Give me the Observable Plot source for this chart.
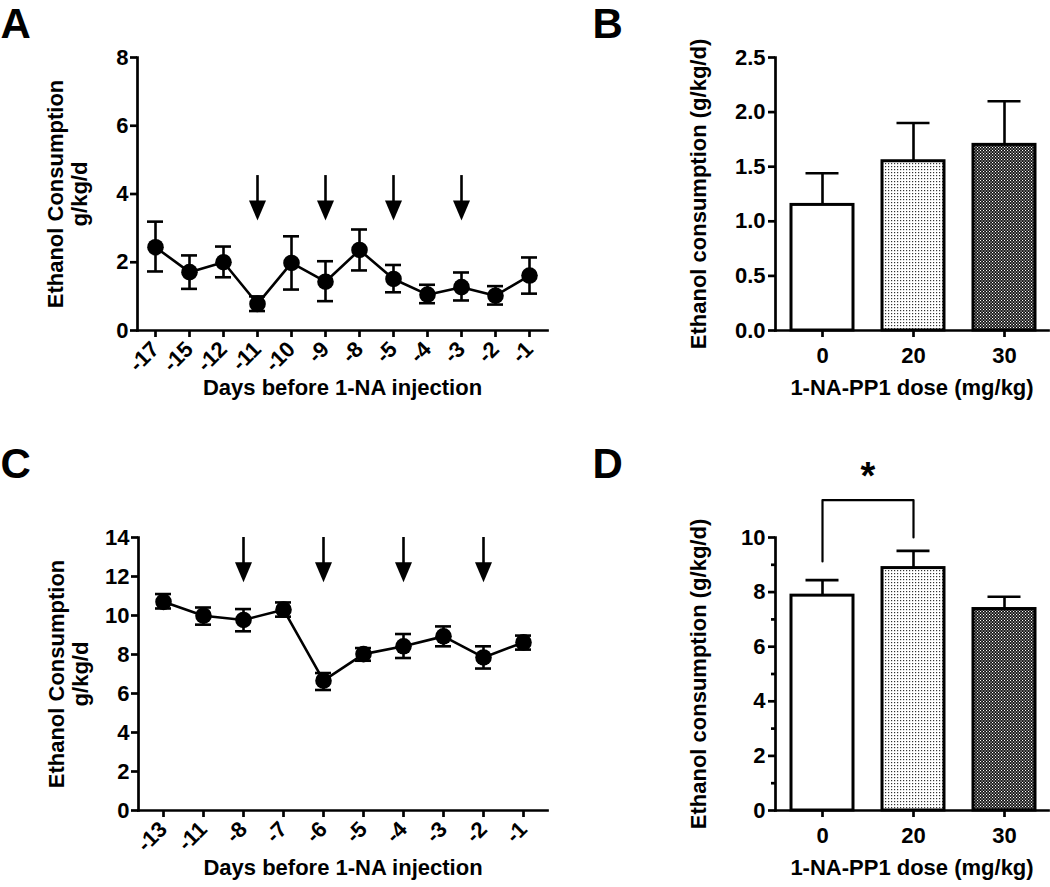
<!DOCTYPE html>
<html><head><meta charset="utf-8">
<script src="https://cdn.jsdelivr.net/npm/d3@7"></script>
<script src="https://cdn.jsdelivr.net/npm/@observablehq/plot@0.6"></script>
<style>
body{margin:0;background:#fff;}
#chart{position:relative;width:1050px;height:887px;background:#fff;overflow:hidden;}
#chart .panel{position:absolute;}
</style></head>
<body>
<svg width="0" height="0" style="position:absolute">
<defs>
<pattern id="dots" width="3" height="3" patternUnits="userSpaceOnUse"><rect width="3" height="3" fill="#fff"/><rect x="1" y="1" width="1.2" height="1.2" fill="#333"/></pattern>
<pattern id="checks" width="3" height="3" patternUnits="userSpaceOnUse"><rect width="3" height="3" fill="#111"/><rect width="1.1" height="1.1" fill="#fff"/><rect x="1.5" y="1.5" width="1.1" height="1.1" fill="#fff"/></pattern>
</defs></svg>
<div id="chart">
<div class="panel" id="pA" style="left:0;top:0"></div>
<div class="panel" id="pB" style="left:560px;top:0"></div>
<div class="panel" id="pC" style="left:0;top:440px"></div>
<div class="panel" id="pD" style="left:560px;top:440px"></div>
</div>
<script>
// ---------- Data ----------
// Panel A
const daysA = ["-17","-15","-12","-11","-10","-9","-8","-5","-4","-3","-2","-1"];
const meanA = [2.44, 1.71, 2.00, 0.78, 1.98, 1.43, 2.36, 1.51, 1.05, 1.27, 1.02, 1.61];
const upperA = [3.19, 2.20, 2.46, 1.00, 2.76, 2.03, 2.96, 1.92, 1.34, 1.70, 1.30, 2.14];
const lowerA = [1.73, 1.22, 1.56, 0.57, 1.20, 0.86, 1.76, 1.12, 0.80, 0.88, 0.76, 1.08];
const arrowDaysA = ["-11","-9","-5","-3"];
const arrowTopA = [4.54, 4.54, 4.54, 4.54];
const arrowTipA = [3.22, 3.22, 3.22, 3.22];
const yTicksA = [0, 2, 4, 6, 8];

// Panel B
const doses = ["0","20","30"];
const meanB = [1.15, 1.55, 1.70];
const upperB = [1.44, 1.90, 2.10];
const yTicksB = [0, 0.5, 1.0, 1.5, 2.0, 2.5];

// Panel C
const daysC = ["-13","-11","-8","-7","-6","-5","-4","-3","-2","-1"];
const meanC = [10.70, 9.99, 9.77, 10.30, 6.66, 8.02, 8.42, 8.93, 7.85, 8.62];
const upperC = [11.10, 10.41, 10.33, 10.67, 7.05, 8.33, 9.05, 9.44, 8.42, 8.97];
const lowerC = [10.36, 9.53, 9.19, 9.94, 6.18, 7.68, 7.82, 8.42, 7.28, 8.25];
const arrowDaysC = ["-8","-6","-4","-2"];
const arrowTopC = [14, 14, 14, 14];
const arrowTipC = [11.7, 11.7, 11.7, 11.7];
const yTicksC = [0, 2, 4, 6, 8, 10, 12, 14];

// Panel D
const meanD = [7.87, 8.88, 7.38];
const upperD = [8.44, 9.51, 7.83];
const yTicksD = [0, 2, 4, 6, 8, 10];
const yMinorTicksD = [1, 3, 5, 7, 9];
const bracketDoseD = ["0","0","20","20"];
const bracketYD = [9.12, 11.37, 11.37, 10.0];
const starDoseD = ["0"];
const starYD = [12.75];
const starText = ["*"];

// Texts
const yTitleLine = "Ethanol Consumption\ng/kg/d";
const yTitleBar = "Ethanol consumption (g/kg/d)";
const xTitleLine = "Days before 1-NA injection";
const xTitleBar = "1-NA-PP1 dose (mg/kg)";

// ---------- Styling ----------
const FONT = '"Liberation Sans", Arial, Helvetica, sans-serif';
const style = {fontFamily: FONT, fontWeight: "bold", fontSize: "22px", color: "black", background: "white", overflow: "visible"};
const AX = 2.7, LW = 2.6;
const barFills = ["white", "url(#dots)", "url(#checks)"];
const arrowHead = {draw(ctx) { ctx.moveTo(-8.5, -20); ctx.lineTo(8.5, -20); ctx.lineTo(0, 0); ctx.closePath(); }};
const LETTER_SIZE = 42, LETTER_TOP = 8;

function linePanel({days, mean, lo, hi, arrowDays, arrowTop, arrowTip, yDomain, yTicks, letter, height, marginLeft, marginTop, marginBottom}) {
  const rows = days.map((d, i) => ({day: d, mean: mean[i], lo: lo[i], hi: hi[i]}));
  const arrows = arrowDays.map((d, i) => ({day: d, top: arrowTop[i], tip: arrowTip[i]}));
  return Plot.plot({
    width: 560, height, marginLeft, marginRight: 13, marginTop, marginBottom,
    style,
    x: {type: "point", domain: days, padding: 0.5},
    y: {domain: yDomain},
    marks: [
      Plot.frame({anchor: "left", strokeWidth: AX}),
      Plot.frame({anchor: "bottom", strokeWidth: AX}),
      Plot.axisY({ticks: yTicks, tickSize: 7, tickPadding: 2, strokeWidth: AX, label: null}),
      Plot.axisX({tickRotate: -45, tickSize: 7, tickPadding: 8, strokeWidth: AX, label: null}),
      Plot.ruleX(arrows, {x: "day", y1: "top", y2: "tip", strokeWidth: LW, insetBottom: 10}),
      Plot.dot(arrows, {x: "day", y: "tip", symbol: arrowHead, fill: "black", stroke: "none"}),
      Plot.line(rows, {x: "day", y: "mean", strokeWidth: LW}),
      Plot.ruleX(rows, {x: "day", y1: "lo", y2: "hi", strokeWidth: LW}),
      Plot.ruleY(rows, {x1: "day", x2: "day", y: "hi", insetLeft: -8, insetRight: -8, strokeWidth: LW}),
      Plot.ruleY(rows, {x1: "day", x2: "day", y: "lo", insetLeft: -8, insetRight: -8, strokeWidth: LW}),
      Plot.dot(rows, {x: "day", y: "mean", r: 8.3, fill: "black", stroke: "none"}),
      Plot.text([yTitleLine], {frameAnchor: "left", textAnchor: "middle", rotate: -90, dx: -70, lineHeight: 1.08, fontSize: 22}),
      Plot.text([xTitleLine], {frameAnchor: "bottom", textAnchor: "middle", dy: 64, fontSize: 22}),
      Plot.text([letter], {frameAnchor: "top-left", textAnchor: "start", lineAnchor: "top", dx: -marginLeft, dy: -marginTop + LETTER_TOP, fontSize: LETTER_SIZE})
    ]
  });
}

function barPanel({mean, upper, yDomain, yTicks, minorTicks, letter, height, marginTop, marginBottom, extra}) {
  const rows = doses.map((d, i) => ({dose: d, mean: mean[i], hi: upper[i]}));
  const marks = [
    Plot.barY(rows, {x: "dose", y: "mean", fill: "dose", stroke: "black", strokeWidth: 3}),
    Plot.ruleX(rows, {x: "dose", y1: "mean", y2: "hi", strokeWidth: LW}),
    Plot.tickY(rows, {x: "dose", y: "hi", insetLeft: 14.5, insetRight: 14.5, strokeWidth: LW}),
    Plot.frame({anchor: "left", strokeWidth: AX}),
    Plot.frame({anchor: "bottom", strokeWidth: AX}),
    Plot.axisY({ticks: yTicks, tickSize: 7, tickPadding: 3, strokeWidth: AX, label: null, tickFormat: yTicks.some(v => v % 1) ? d3.format(".1f") : d3.format("d")}),
    Plot.axisX({tickSize: 7, tickPadding: 10, strokeWidth: AX, label: null}),
    Plot.text([yTitleBar], {frameAnchor: "left", textAnchor: "middle", rotate: -90, dx: -77, fontSize: 22}),
    Plot.text([xTitleBar], {frameAnchor: "bottom", textAnchor: "middle", dy: 64, fontSize: 22}),
    Plot.text([letter], {frameAnchor: "top-left", textAnchor: "start", lineAnchor: "top", dx: 592 - 775, dy: -marginTop + LETTER_TOP, fontSize: LETTER_SIZE})
  ];
  if (minorTicks) marks.push(Plot.axisY({ticks: minorTicks, tickSize: 4, strokeWidth: AX, label: null, tickFormat: () => ""}));
  if (extra) marks.push(...extra);
  return Plot.plot({
    width: 490, height, marginLeft: 215, marginRight: 2, marginTop, marginBottom,
    style,
    x: {type: "band", domain: doses, range: [215, 491], paddingInner: 0.32, paddingOuter: 0.176},
    y: {domain: yDomain},
    color: {type: "ordinal", domain: doses, range: barFills},
    marks
  });
}

document.getElementById("pA").append(linePanel({
  days: daysA, mean: meanA, lo: lowerA, hi: upperA,
  arrowDays: arrowDaysA, arrowTop: arrowTopA, arrowTip: arrowTipA,
  yDomain: [0, 8], yTicks: yTicksA, letter: "A",
  height: 440, marginLeft: 137, marginTop: 57, marginBottom: 110
}));

document.getElementById("pC").append(linePanel({
  days: daysC, mean: meanC, lo: lowerC, hi: upperC,
  arrowDays: arrowDaysC, arrowTop: arrowTopC, arrowTip: arrowTipC,
  yDomain: [0, 14], yTicks: yTicksC, letter: "C",
  height: 447, marginLeft: 138, marginTop: 97, marginBottom: 77
}));

document.getElementById("pB").append(barPanel({
  mean: meanB, upper: upperB, yDomain: [0, 2.5], yTicks: yTicksB, letter: "B",
  height: 440, marginTop: 57, marginBottom: 110
}));

const bracket = bracketDoseD.map((d, i) => ({dose: d, y: bracketYD[i]}));
const star = starDoseD.map((d, i) => ({dose: d, y: starYD[i], label: starText[i]}));
document.getElementById("pD").append(barPanel({
  mean: meanD, upper: upperD, yDomain: [0, 10], yTicks: yTicksD, minorTicks: yMinorTicksD, letter: "D",
  height: 447, marginTop: 97, marginBottom: 77,
  extra: [
    Plot.line(bracket, {x: "dose", y: "y", strokeWidth: 2.2}),
    Plot.text(star, {x: "dose", y: "y", text: "label", dx: 45.5, lineAnchor: "top", fontSize: 38})
  ]
}));
</script>
</body></html>
